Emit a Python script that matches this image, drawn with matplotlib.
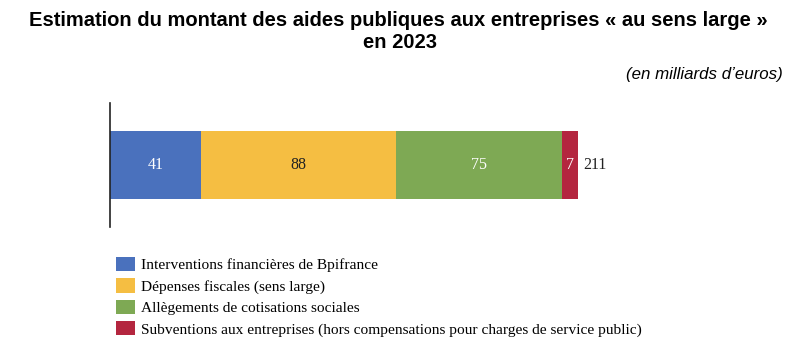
import matplotlib
matplotlib.use('Agg')
from matplotlib import pyplot as plt
from matplotlib.patches import Patch

categories = ['Interventions financières de Bpifrance',
              'Dépenses fiscales (sens large)',
              'Allègements de cotisations sociales',
              'Subventions aux entreprises (hors compensations pour charges de service public)']
values = [41, 88, 75, 7]
colors = ['#4a71bd', '#f5be42', '#7ea954', '#b4263f']
label_colors = ['white', '#222222', 'white', 'white']
total = sum(values)

W, H = 806, 348
fig = plt.figure(figsize=(W/100, H/100), dpi=100)

serif = ['Liberation Serif', 'DejaVu Serif']
sans = ['Liberation Sans', 'DejaVu Sans']

fig.text(398/W, 1 - 20/H, 'Estimation du montant des aides publiques aux entreprises « au sens large »',
         ha='center', va='center', fontsize=14.5, fontweight='bold', family=sans)
fig.text(400/W, 1 - 43/H, 'en 2023', ha='center', va='center',
         fontsize=14.5, fontweight='bold', family=sans)
fig.text(783/W, 1 - 75/H, '(en milliards d\u2019euros)', ha='right', va='center',
         fontsize=12.2, style='italic', family=sans)

ax = fig.add_axes([110/W, 1 - 227/H, 468/W, 124/H])
left = 0
for v, c, lc in zip(values, colors, label_colors):
    ax.barh(0, v, left=left, height=0.548, color=c, edgecolor='none')
    ax.text(left + v/2, 0, str(v), ha='center', va='center', color=lc,
            fontsize=11.5, family=serif)
    left += v
ax.text(total + 2.5, 0, str(total), ha='left', va='center', color='#222222',
        fontsize=11.5, family=serif, clip_on=False)

ax.set_xlim(0, total)
ax.set_ylim(-0.5, 0.5)
for s in ['top', 'right', 'bottom']:
    ax.spines[s].set_visible(False)
ax.spines['left'].set_color('#222222')
ax.spines['left'].set_linewidth(1.2)
ax.set_xticks([])
ax.set_yticks([])
ax.patch.set_visible(False)

handles = [Patch(facecolor=c, edgecolor='none') for c in colors]
fig.legend(handles, categories, loc='upper left', bbox_to_anchor=(116/W, 1 - 257/H),
           frameon=False, prop={'family': serif, 'size': 11.1},
           handlelength=1.2, handleheight=1.05, handletextpad=0.45,
           labelspacing=0.38, borderpad=0, borderaxespad=0)

fig.savefig('out.png', dpi=100)
